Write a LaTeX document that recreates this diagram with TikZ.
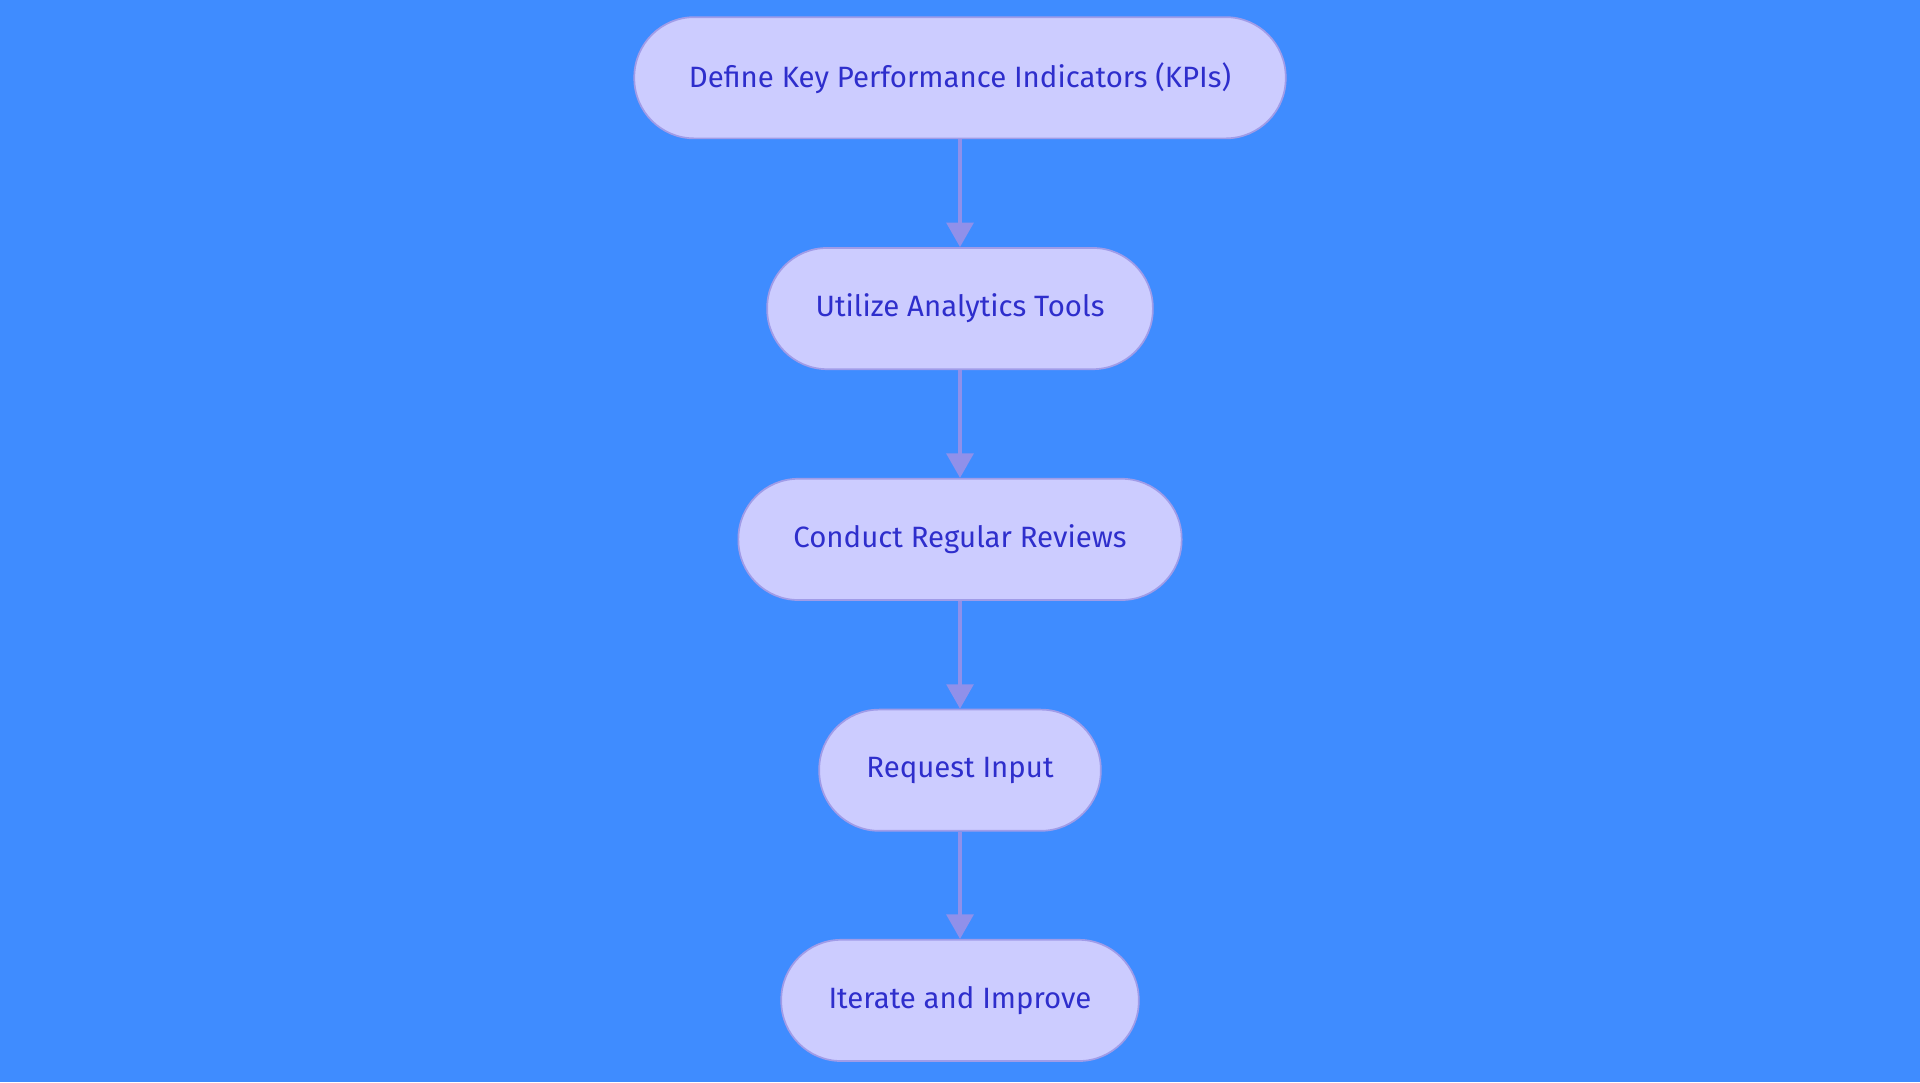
\documentclass[tikz,border=0pt]{standalone}
\usepackage{fontspec}
\setmainfont{Fira Sans}
\usetikzlibrary{arrows.meta}
\definecolor{bgblue}{HTML}{3F8CFF}
\definecolor{stepfill}{HTML}{CCCCFF}
\definecolor{stepline}{HTML}{A09CE8}
\definecolor{steptext}{HTML}{2E2ECC}
\definecolor{arrowcol}{HTML}{9090EA}
\tikzset{
    pill/.style={draw=stepline, line width=0.7pt, fill=stepfill, text=steptext,
        rounded corners=24.5pt, minimum height=49.5pt, inner sep=0pt,
        font=\fontsize{12}{14}\selectfont},
    flow/.style={draw=arrowcol, line width=1.3pt, -{Triangle[length=10pt, width=11pt]}}
}
\begin{document}
\begin{tikzpicture}[x=0.5pt, y=-0.5pt]
        \fill[bgblue] (0, 0) rectangle (1568, 884);
        \node[pill, minimum width=266pt] (kpi) at (784, 63.5) {Define Key Performance Indicators (KPIs)};
        \node[pill, minimum width=157.5pt] (tools) at (784, 252) {Utilize Analytics Tools};
        \node[pill, minimum width=181pt] (reviews) at (784, 440.5) {Conduct Regular Reviews};
        \node[pill, minimum width=115pt] (input) at (784, 629) {Request Input};
        \node[pill, minimum width=146pt] (improve) at (784, 817) {Iterate and Improve};
        \draw[flow] (kpi) -- (tools);
        \draw[flow] (tools) -- (reviews);
        \draw[flow] (reviews) -- (input);
        \draw[flow] (input) -- (improve);
    \end{tikzpicture}
\end{document}
